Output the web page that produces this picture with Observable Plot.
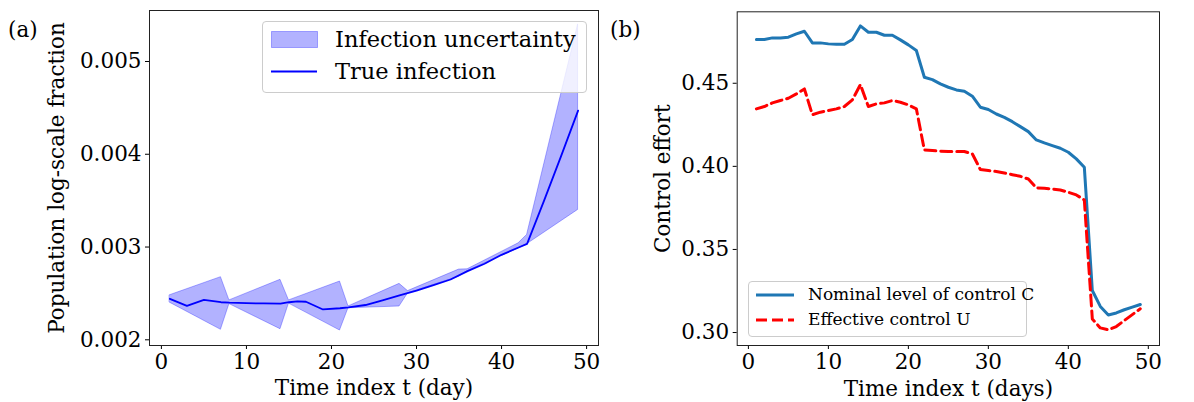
<!DOCTYPE html>
<html>
<head>
<meta charset="utf-8">
<script src="https://cdn.jsdelivr.net/npm/d3@7"></script>
<script src="https://cdn.jsdelivr.net/npm/@observablehq/plot@0.6"></script>
<style>
  html, body { margin: 0; padding: 0; background: #fff; }
  #wrap { position: relative; width: 1194px; height: 402px; display: flex; font-family: "DejaVu Serif", serif; color: #000; }
  .panel-label { position: absolute; font-size: 21.5px; line-height: 1; }
  .legend { position: absolute; box-sizing: border-box; border: 1px solid #cccccc; border-radius: 4px; background: rgba(255,255,255,0.8); }
  .legend .row { position: absolute; white-space: nowrap; line-height: 1; }
</style>
</head>
<body>
<div id="wrap"></div>
<script>
// ---- Panel (a): infection ----
const infT   = [1, 3, 5, 7, 8, 10, 12, 14, 15, 16, 17, 19, 21, 22, 24, 26, 28, 30, 32, 34, 36, 38, 40, 42, 43, 45, 47, 49];
const infY   = [0.002442, 0.002366, 0.002431, 0.002405, 0.002400, 0.002395, 0.002392, 0.002390, 0.002405, 0.002415, 0.002410, 0.002327, 0.002340, 0.002350, 0.002375, 0.002425, 0.002478, 0.002531, 0.002590, 0.002650, 0.002740, 0.002820, 0.002916, 0.002995, 0.003034, 0.003500, 0.003980, 0.004471];
const bandT  = [1, 7, 8, 14, 15, 21, 22, 28, 29, 35, 36, 42, 43, 49];
const bandLo = [0.002400, 0.002108, 0.002385, 0.002114, 0.002390, 0.002100, 0.002340, 0.002359, 0.002500, 0.002680, 0.002740, 0.002985, 0.003030, 0.003400];
const bandHi = [0.002480, 0.002675, 0.002425, 0.002647, 0.002425, 0.002628, 0.002360, 0.002603, 0.002525, 0.002757, 0.002760, 0.003040, 0.003130, 0.005400];
const yTicksA = [0.002, 0.003, 0.004, 0.005];
const xTicks  = [0, 10, 20, 30, 40, 50];

// ---- Panel (b): control ----
const days = d3.range(1, 50);
const nominalC = [0.4763, 0.4763, 0.4773, 0.4773, 0.4777, 0.4797, 0.4813, 0.4743, 0.4743, 0.4737,
                  0.4735, 0.4735, 0.4763, 0.4845, 0.4807, 0.4807, 0.4789, 0.4789, 0.4761, 0.4731,
                  0.4697, 0.4536, 0.4522, 0.4496, 0.4476, 0.4460, 0.4452, 0.4422, 0.4356, 0.4342,
                  0.4315, 0.4295, 0.4269, 0.4239, 0.4209, 0.4159, 0.4141, 0.4125, 0.4109, 0.4085,
                  0.4045, 0.3995, 0.3253, 0.3157, 0.3106, 0.3118, 0.3137, 0.3153, 0.3169];
const effectiveU = [0.4346, 0.4360, 0.4382, 0.4396, 0.4410, 0.4436, 0.4466, 0.4311, 0.4326, 0.4336,
                    0.4346, 0.4360, 0.4400, 0.4492, 0.4360, 0.4376, 0.4382, 0.4396, 0.4386, 0.4370,
                    0.4346, 0.4099, 0.4095, 0.4091, 0.4089, 0.4089, 0.4089, 0.4075, 0.3981, 0.3975,
                    0.3969, 0.3960, 0.3950, 0.3940, 0.3924, 0.3870, 0.3868, 0.3864, 0.3858, 0.3844,
                    0.3828, 0.3798, 0.3082, 0.3028, 0.3016, 0.3036, 0.3072, 0.3108, 0.3143];
const yTicksB = [0.30, 0.35, 0.40, 0.45];

const FONT = "DejaVu Serif";
const FS = 21.5;

const infData  = infT.map((t, i) => ({t, y: infY[i]}));
const bandData = bandT.map((t, i) => ({t, lo: bandLo[i], hi: bandHi[i]}));
const ctrlC = days.map((t, i) => ({t, v: nominalC[i]}));
const ctrlU = days.map((t, i) => ({t, v: effectiveU[i]}));

const plotA = Plot.plot({
  width: 600, height: 402,
  marginLeft: 149, marginRight: 2, marginTop: 10, marginBottom: 57,
  style: {fontFamily: FONT, fontSize: FS + "px", color: "#000", background: "transparent", overflow: "visible"},
  x: {domain: [-1.4, 51.4], ticks: xTicks, tickSize: 4, tickPadding: 4, label: null},
  y: {domain: [0.0019386, 0.0055497], ticks: yTicksA, tickFormat: d3.format(".3f"), tickSize: 4, tickPadding: 4, label: null},
  marks: [
    Plot.areaY(bandData, {x: "t", y1: "lo", y2: "hi", fill: "#0000ff", fillOpacity: 0.3, stroke: "#0000ff", strokeOpacity: 0.3, strokeWidth: 1}),
    Plot.lineY(infData, {x: "t", y: "y", stroke: "#0000ff", strokeWidth: 1.8}),
    Plot.frame({stroke: "#222", strokeWidth: 1}),
    Plot.text(["Time index t (day)"], {frameAnchor: "bottom", dy: 43, lineAnchor: "middle", fontSize: FS}),
    Plot.text(["Population log-scale fraction"], {frameAnchor: "left", dx: -92, rotate: -90, textAnchor: "middle", lineAnchor: "middle", fontSize: FS})
  ]
});

const plotB = Plot.plot({
  width: 594, height: 402,
  marginLeft: 136.7, marginRight: 35, marginTop: 11.3, marginBottom: 57,
  style: {fontFamily: FONT, fontSize: FS + "px", color: "#000", background: "transparent", overflow: "visible"},
  x: {domain: [-1.4, 51.4], ticks: xTicks, tickSize: 4, tickPadding: 4, label: null},
  y: {domain: [0.2922, 0.4930], ticks: yTicksB, tickFormat: d3.format(".2f"), tickSize: 4, tickPadding: 4, label: null},
  marks: [
    Plot.lineY(ctrlC, {x: "t", y: "v", stroke: "#1f77b4", strokeWidth: 3}),
    Plot.lineY(ctrlU, {x: "t", y: "v", stroke: "#ff0000", strokeWidth: 3, strokeDasharray: "11,5"}),
    Plot.frame({stroke: "#222", strokeWidth: 1}),
    Plot.text(["Time index t (days)"], {frameAnchor: "bottom", dy: 44, lineAnchor: "middle", fontSize: FS}),
    Plot.text(["Control effort"], {frameAnchor: "left", dx: -73.7, rotate: -90, textAnchor: "middle", lineAnchor: "middle", fontSize: FS})
  ]
});

const wrap = document.getElementById("wrap");
wrap.appendChild(plotA);
wrap.appendChild(plotB);

function addLabel(txt, x, y) {
  const d = document.createElement("div");
  d.className = "panel-label"; d.textContent = txt;
  d.style.left = x + "px"; d.style.top = y + "px";
  wrap.appendChild(d);
}
addLabel("(a)", 8, 19);
addLabel("(b)", 610, 19);

// Legend (a)
const legA = document.createElement("div");
legA.className = "legend";
Object.assign(legA.style, {left: "262px", top: "21px", width: "325px", height: "72px"});
legA.innerHTML = `
  <svg width="325" height="72" style="position:absolute;left:0;top:0">
    <rect x="8.5" y="9.5" width="46" height="16" fill="rgba(0,0,255,0.3)" stroke="rgba(0,0,255,0.3)"></rect>
    <line x1="8" x2="54" y1="49.5" y2="49.5" stroke="#0000ff" stroke-width="1.8"></line>
  </svg>
  <div class="row" style="left:72px;top:6px;font-size:22.5px">Infection uncertainty</div>
  <div class="row" style="left:72px;top:38px;font-size:22.5px">True infection</div>`;
wrap.appendChild(legA);

// Legend (b)
const legB = document.createElement("div");
legB.className = "legend";
Object.assign(legB.style, {left: "748px", top: "281px", width: "279px", height: "56px"});
legB.innerHTML = `
  <svg width="279" height="56" style="position:absolute;left:0;top:0">
    <line x1="7" x2="45" y1="13" y2="13" stroke="#1f77b4" stroke-width="3"></line>
    <line x1="7" x2="45" y1="38" y2="38" stroke="#ff0000" stroke-width="3" stroke-dasharray="11,5"></line>
  </svg>
  <div class="row" style="left:59px;top:4px;font-size:17px">Nominal level of control C</div>
  <div class="row" style="left:59px;top:29px;font-size:17px">Effective control U</div>`;
wrap.appendChild(legB);
</script>
</body>
</html>
